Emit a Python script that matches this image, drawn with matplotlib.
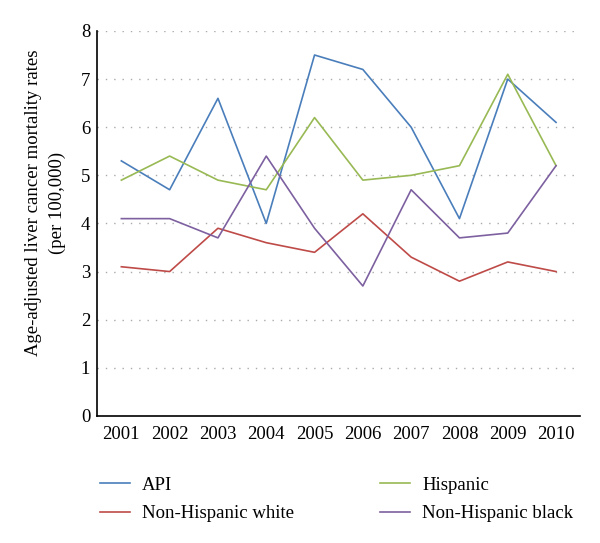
import numpy as np
import matplotlib
matplotlib.use('Agg')
import matplotlib.pyplot as plt

years = ['2001', '2002', '2003', '2004', '2005', '2006', '2007', '2008', '2009', '2010']
api = [5.3, 4.7, 6.6, 4.0, 7.5, 7.2, 6.0, 4.1, 7.0, 6.1]
hispanic = [4.9, 5.4, 4.9, 4.7, 6.2, 4.9, 5.0, 5.2, 7.1, 5.2]
nh_white = [3.1, 3.0, 3.9, 3.6, 3.4, 4.2, 3.3, 2.8, 3.2, 3.0]
nh_black = [4.1, 4.1, 3.7, 5.4, 3.9, 2.7, 4.7, 3.7, 3.8, 5.2]

COLORS = {
    'api': '#4A7EBB',
    'hispanic': '#98B954',
    'nh_white': '#BE4B48',
    'nh_black': '#7D60A0',
}

plt.rcParams['font.family'] = ['Liberation Serif', 'DejaVu Serif']
FS = 13.5

fig = plt.figure(figsize=(6, 5.43), dpi=100)
ax = fig.add_axes([0.162, 0.234, 0.805, 0.709])

x = np.arange(len(years))
l1, = ax.plot(x, api, color=COLORS['api'], lw=1.2, label='API')
l3, = ax.plot(x, nh_white, color=COLORS['nh_white'], lw=1.2, label='Non-Hispanic white')
l2, = ax.plot(x, hispanic, color=COLORS['hispanic'], lw=1.2, label='Hispanic')
l4, = ax.plot(x, nh_black, color=COLORS['nh_black'], lw=1.2, label='Non-Hispanic black')

ax.set_xlim(-0.5, len(years) - 0.5)
ax.set_ylim(0, 8)
ax.set_xticks(x)
ax.set_xticklabels(years)
ax.set_yticks(range(0, 9))
ax.tick_params(length=0, labelsize=FS, pad=7)
ax.tick_params(axis='y', pad=5)
ax.yaxis.grid(True, color='#AAAAAA', linestyle=(0, (1, 5)), linewidth=1)
ax.set_axisbelow(True)
for s in ['top', 'right']:
    ax.spines[s].set_visible(False)
ax.spines['left'].set_linewidth(1.2)
ax.spines['bottom'].set_linewidth(1.2)

ax.set_ylabel('Age-adjusted liver cancer mortality rates\n(per 100,000)', fontsize=FS,
              linespacing=1.5)
ax.yaxis.set_label_coords(-0.064, 0.553)

fig.legend(handles=[l1, l3, l2, l4], loc='upper left', bbox_to_anchor=(0.167, 0.122),
           ncol=2, frameon=False, fontsize=FS, handlelength=1.6, handletextpad=0.64,
           columnspacing=4.6, labelspacing=0.6, borderpad=0, borderaxespad=0)

fig.savefig('out.png', dpi=100)
